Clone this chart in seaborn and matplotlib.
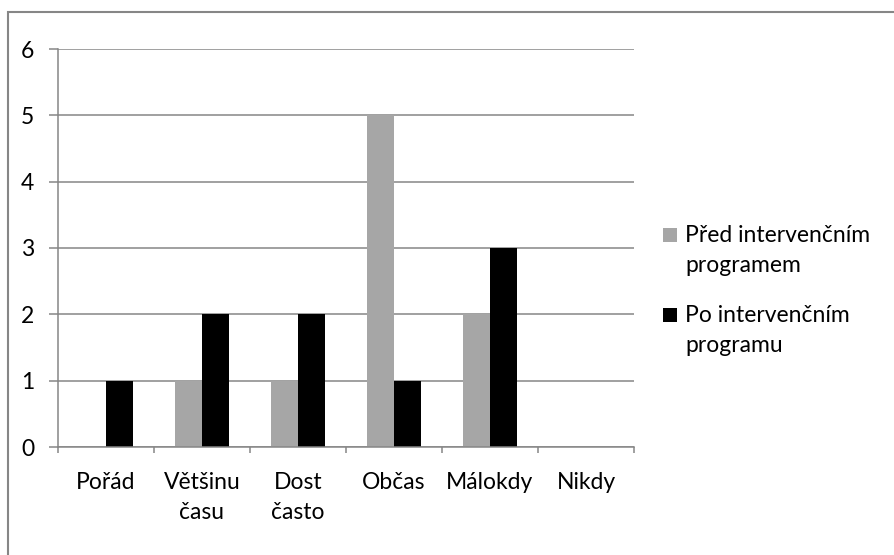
import matplotlib
matplotlib.use("Agg")
import matplotlib.pyplot as plt
from matplotlib.patches import Rectangle
import seaborn as sns
import pandas as pd

categories = ["Pořád", "Většinu\nčasu", "Dost\nčasto", "Občas", "Málokdy", "Nikdy"]
series_names = ["Před intervenčním\nprogramem", "Po intervenčním\nprogramu"]
series_colors = ["#A6A6A6", "#000000"]
before = [0, 1, 1, 5, 2, 0]
after = [1, 2, 2, 1, 3, 0]
y_ticks = [0, 1, 2, 3, 4, 5, 6]

sns.set_theme(style="white")
plt.rcParams["font.family"] = ["Lato", "DejaVu Sans"]

df = pd.DataFrame({
    "kategorie": categories * 2,
    "hodnota": before + after,
    "serie": [series_names[0]] * len(categories) + [series_names[1]] * len(categories),
})

W, H = 894, 555
grid_col = "#868686"
fs = 16.5
fig = plt.figure(figsize=(W / 100, H / 100), dpi=100)
ax = fig.add_axes([58 / W, 1 - 447 / H, (634 - 58) / W, (447 - 49) / H])

sns.barplot(data=df, x="kategorie", y="hodnota", hue="serie", order=categories,
            hue_order=series_names, palette=series_colors,
            width=0.556, gap=0, saturation=1, edgecolor="none", linewidth=0,
            errorbar=None, legend=False, ax=ax)

ax.set_xlim(-0.5, len(categories) - 0.5)
ax.set_ylim(0, 6)
ax.set_yticks(y_ticks)
ax.yaxis.grid(True, color=grid_col, linewidth=1.1)
ax.set_axisbelow(True)
for side in ["top", "right"]:
    ax.spines[side].set_visible(False)
for side in ["left", "bottom"]:
    ax.spines[side].set_color(grid_col)
    ax.spines[side].set_linewidth(1.1)

ax.set_xlabel("")
ax.set_ylabel("")
ax.tick_params(axis="y", which="major", length=6.5, width=1.1, color=grid_col,
               labelsize=fs, labelcolor="black", pad=15.5, left=True)
ax.set_xticks(range(len(categories)))
ax.set_xticklabels(categories, linespacing=1.55)
ax.tick_params(axis="x", which="major", length=0, labelsize=fs,
               labelcolor="black", pad=18)
ax.set_xticks([i - 0.5 for i in range(len(categories) + 1)], minor=True)
ax.tick_params(axis="x", which="minor", length=4.3, width=1.1, color=grid_col,
               bottom=True)
for lab in ax.get_yticklabels():
    lab.set_horizontalalignment("center")

# legend: square key beside the first line of each (two-line) label
legend_baselines = [241.5, 321.5]
line_gap = 30.5
for name, color, base in zip(series_names, series_colors, legend_baselines):
    fig.patches.append(Rectangle((663 / W, 1 - (base + 0.3) / H), 13.5 / W, 13.5 / H,
                                 transform=fig.transFigure, facecolor=color,
                                 edgecolor="none"))
    for k, line in enumerate(name.split("\n")):
        fig.text(685 / W, 1 - (base + k * line_gap) / H, line, fontsize=fs,
                 ha="left", va="baseline", color="black")

fig.patches.append(Rectangle((8 / W, -0.1), 1.2, 1.1 - 12 / H,
                             transform=fig.transFigure, fill=False,
                             edgecolor=grid_col, linewidth=1.5))

fig.savefig("out.png", dpi=100)
